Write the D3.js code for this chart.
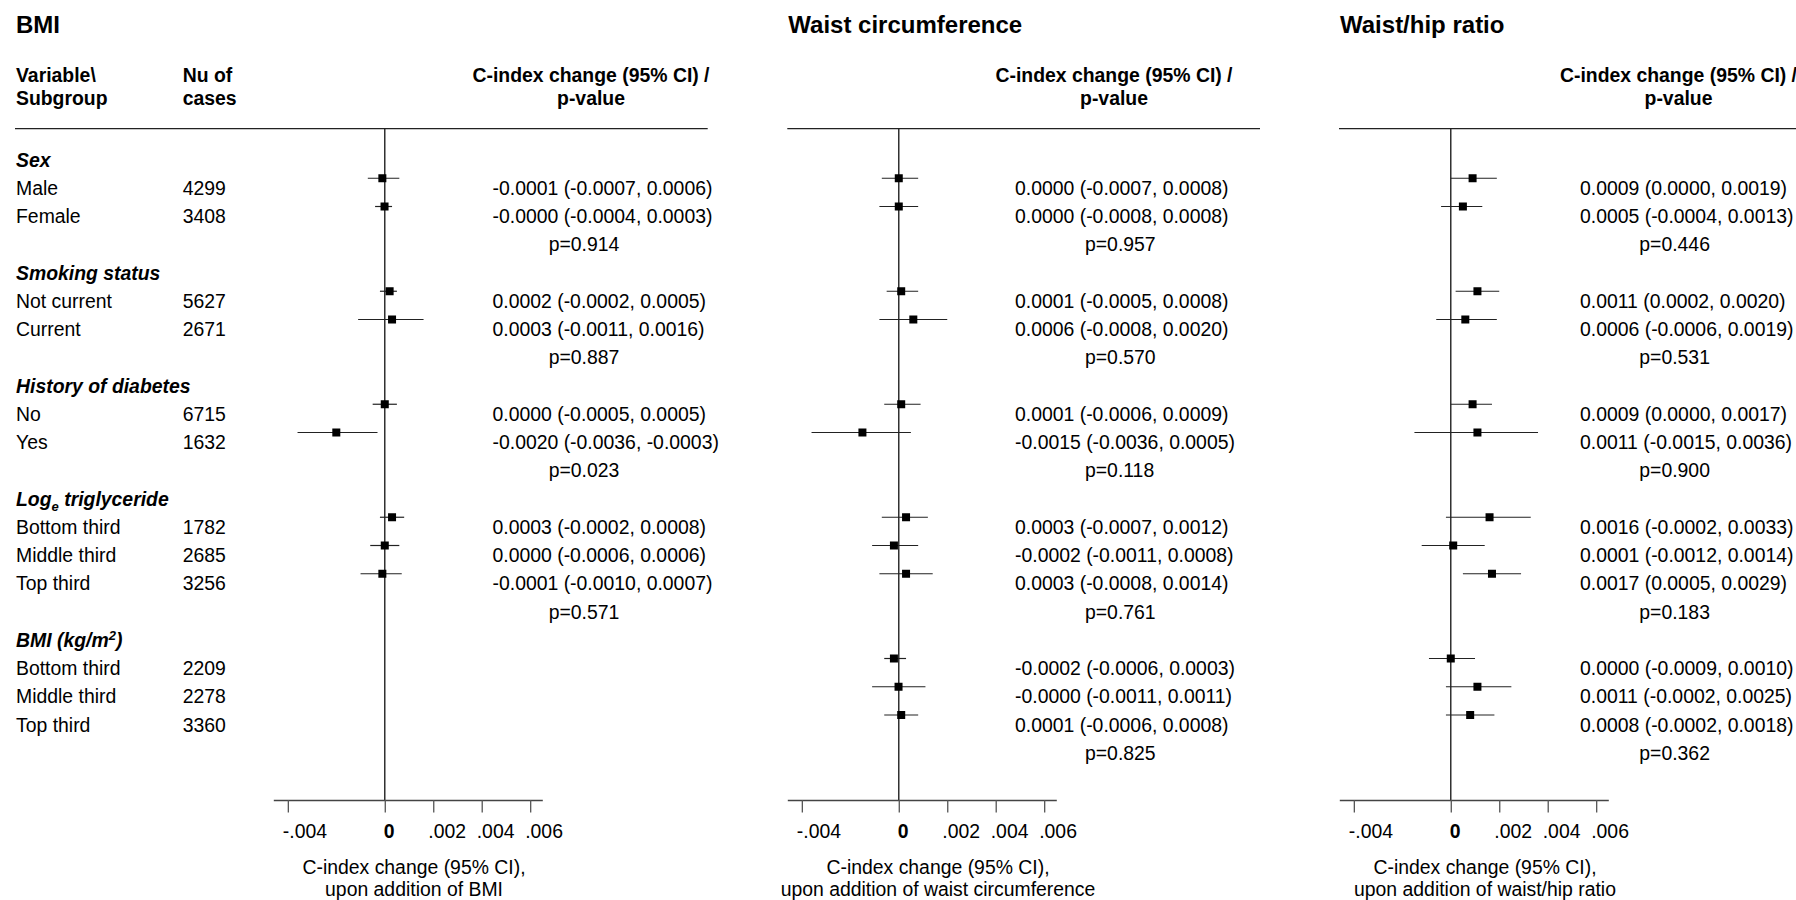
<!DOCTYPE html>
<html lang="en">
  <head>
    <meta charset="UTF-8" />
    <title>C-index change by subgroup</title>
    <script src="https://cdn.jsdelivr.net/npm/d3@7"></script>
    <style>
      body { margin: 0; background: #fff; }
      svg { font-family: 'Liberation Sans', Arial, Helvetica, sans-serif; }
    </style>
  </head>
  <body>
    <div class="chart"></div>
    <script>
      // group headers ( _x = subscript, ^x = superscript )
      var groupNames = ['Sex', 'Smoking status', 'History of diabetes', 'Log_e triglyceride', 'BMI (kg/m^2)']
      var groupSizes = [2, 2, 2, 3, 3]
      var subgroupNames = ['Male', 'Female', 'Not current', 'Current', 'No', 'Yes',
        'Bottom third', 'Middle third', 'Top third', 'Bottom third', 'Middle third', 'Top third']
      var nCases = [4299, 3408, 5627, 2671, 6715, 1632, 1782, 2685, 3256, 2209, 2278, 3360]

      // BMI
      var bmiEst = [-0.0001, -0.00001, 0.0002, 0.0003, 0.0000, -0.0020, 0.0003, 0.0000, -0.0001, null, null, null]
      var bmiLo = [-0.0007, -0.0004, -0.0002, -0.0011, -0.0005, -0.0036, -0.0002, -0.0006, -0.0010, null, null, null]
      var bmiHi = [0.0006, 0.0003, 0.0005, 0.0016, 0.0005, -0.0003, 0.0008, 0.0006, 0.0007, null, null, null]
      var bmiP = [0.914, 0.887, 0.023, 0.571, null]

      // waist circumference
      var wcEst = [0.0000, 0.0000, 0.0001, 0.0006, 0.0001, -0.0015, 0.0003, -0.0002, 0.0003, -0.0002, -0.00001, 0.0001]
      var wcLo = [-0.0007, -0.0008, -0.0005, -0.0008, -0.0006, -0.0036, -0.0007, -0.0011, -0.0008, -0.0006, -0.0011, -0.0006]
      var wcHi = [0.0008, 0.0008, 0.0008, 0.0020, 0.0009, 0.0005, 0.0012, 0.0008, 0.0014, 0.0003, 0.0011, 0.0008]
      var wcP = [0.957, 0.570, 0.118, 0.761, 0.825]

      // waist/hip ratio
      var whrEst = [0.0009, 0.0005, 0.0011, 0.0006, 0.0009, 0.0011, 0.0016, 0.0001, 0.0017, 0.0000, 0.0011, 0.0008]
      var whrLo = [0.0000, -0.0004, 0.0002, -0.0006, 0.0000, -0.0015, -0.0002, -0.0012, 0.0005, -0.0009, -0.0002, -0.0002]
      var whrHi = [0.0019, 0.0013, 0.0020, 0.0019, 0.0017, 0.0036, 0.0033, 0.0014, 0.0029, 0.0010, 0.0025, 0.0018]
      var whrP = [0.446, 0.531, 0.900, 0.183, 0.362]

      var tickVals = [-0.004, 0, 0.002, 0.004, 0.006]
      var xDomain = [-0.0046, 0.0065]

      var panels = [
        { title: 'BMI', sub: 'upon addition of BMI', est: bmiEst, lo: bmiLo, hi: bmiHi, p: bmiP,
          x0: 273.3, ciX: 492.5, pX: 548.7, headX: 591, lineX: [15, 707.7], titleX: 16, axisTitleX: 414 },
        { title: 'Waist circumference', sub: 'upon addition of waist circumference', est: wcEst, lo: wcLo, hi: wcHi, p: wcP,
          x0: 787.3, ciX: 1015, pX: 1085, headX: 1114, lineX: [787.3, 1260], titleX: 788.3, axisTitleX: 938 },
        { title: 'Waist/hip ratio', sub: 'upon addition of waist/hip ratio', est: whrEst, lo: whrLo, hi: whrHi, p: whrP,
          x0: 1339.3, ciX: 1580, pX: 1639.3, headX: 1678.5, lineX: [1339, 1800], titleX: 1340, axisTitleX: 1485 }
      ]

      var W = 1796, H = 900
      var fs = 19.4
      var axisY = 800, topY = 128.7
      var plotW = 269

      var svg = d3.select('.chart').append('svg')
        .attr('width', W).attr('height', H)
        .style('background-color', '#fff')

      // table rows: group header, subgroups, p-value
      var rows = []
      var k = 0
      groupNames.forEach(function (g, gi) {
        rows.push({ type: 'group', g: gi })
        for (var j = 0; j < groupSizes[gi]; j++) rows.push({ type: 'sub', idx: k++ })
        rows.push({ type: 'p', g: gi })
      })
      rows.forEach(function (r, i) { r.row = i })

      // row baseline
      var yScale = d3.scaleLinear().domain([0, 21]).range([166.7, 166.7 + 28.25 * 21])
      var markOff = 16.7

      var fmt = function (v) { return (v < 0 ? '-' : '') + Math.abs(v).toFixed(4) }

      function richText(sel, str) {
        var parts = str.split(/([_^]\w)/)
        var shift = 0
        parts.forEach(function (s) {
          if (!s) return
          if (s[0] === '_' || s[0] === '^') {
            var d = s[0] === '_' ? 5 : -7
            sel.append('tspan').attr('dy', d).attr('font-size', 13).text(s.slice(1))
            shift = -d
          } else {
            sel.append('tspan').attr('dy', shift).text(s)
            shift = 0
          }
        })
      }

      // left table (only once)
      var left = svg.append('g').attr('font-size', fs)
      left.append('text').attr('x', 16).attr('y', 81.7).attr('font-weight', 'bold').text('Variable\\')
      left.append('text').attr('x', 16).attr('y', 104.5).attr('font-weight', 'bold').text('Subgroup')
      left.append('text').attr('x', 182.7).attr('y', 81.7).attr('font-weight', 'bold').text('Nu of')
      left.append('text').attr('x', 182.7).attr('y', 104.5).attr('font-weight', 'bold').text('cases')

      rows.filter(function (r) { return r.type === 'group' }).forEach(function (r) {
        var t = left.append('text').attr('x', 16).attr('y', yScale(r.row))
          .attr('font-weight', 'bold').attr('font-style', 'italic')
        richText(t, groupNames[r.g])
      })
      var subRows = rows.filter(function (r) { return r.type === 'sub' })
      left.selectAll('.subName').data(subRows).enter().append('text')
        .attr('x', 16).attr('y', function (r) { return yScale(r.row) })
        .text(function (r) { return subgroupNames[r.idx] })
      left.selectAll('.nCase').data(subRows).enter().append('text')
        .attr('x', 182.7).attr('y', function (r) { return yScale(r.row) })
        .text(function (r) { return nCases[r.idx] })

      panels.forEach(function (pn) {
        var x = d3.scaleLinear().domain(xDomain).range([pn.x0, pn.x0 + plotW])
        var g = svg.append('g').attr('font-size', fs)

        g.append('text').attr('x', pn.titleX).attr('y', 33.3)
          .attr('font-size', 24).attr('font-weight', 'bold').text(pn.title)
        g.append('text').attr('x', pn.headX).attr('y', 81.7).attr('text-anchor', 'middle')
          .attr('font-weight', 'bold').text('C-index change (95% CI) /')
        g.append('text').attr('x', pn.headX).attr('y', 104.5).attr('text-anchor', 'middle')
          .attr('font-weight', 'bold').text('p-value')
        g.append('line').attr('x1', pn.lineX[0]).attr('x2', pn.lineX[1])
          .attr('y1', topY).attr('y2', topY).attr('stroke', '#222').attr('stroke-width', 1.3)

        // zero line
        g.append('line').attr('x1', x(0)).attr('x2', x(0)).attr('y1', topY).attr('y2', axisY)
          .attr('stroke', '#222').attr('stroke-width', 1.4)

        // axis
        var ax = g.append('g').attr('transform', 'translate(0,' + axisY + ')')
          .call(d3.axisBottom(x).tickValues(tickVals).tickSize(12.5).tickSizeOuter(0)
            .tickFormat(function (d) { return d === 0 ? '0' : (d < 0 ? '-' : '') + String(Math.abs(d)).replace(/^0/, '') }))
        ax.attr('font-family', null).attr('font-size', fs)
        ax.select('.domain').attr('stroke', '#444').attr('stroke-width', 1.5)
        ax.selectAll('.tick line').attr('stroke', '#555').attr('stroke-width', 1.3)
        ax.selectAll('.tick text').attr('fill', '#000').attr('dy', null).attr('y', 38.3)
          .attr('text-anchor', 'start')
          .attr('x', function (d) { return d === 0 ? -1.5 : -5.5 })
          .attr('font-weight', function (d) { return d === 0 ? 'bold' : null })

        g.append('text').attr('x', pn.axisTitleX).attr('y', 873.5).attr('text-anchor', 'middle')
          .text('C-index change (95% CI),')
        g.append('text').attr('x', pn.axisTitleX).attr('y', 896).attr('text-anchor', 'middle')
          .text(pn.sub)

        var dat = subRows.filter(function (r) { return pn.est[r.idx] !== null })

        // CI whiskers
        g.selectAll('.ci').data(dat).enter().append('line')
          .attr('x1', function (r) { return x(pn.lo[r.idx]) })
          .attr('x2', function (r) { return x(pn.hi[r.idx]) })
          .attr('y1', function (r) { return yScale(r.row) - markOff })
          .attr('y2', function (r) { return yScale(r.row) - markOff })
          .attr('stroke', '#222').attr('stroke-width', 1.2)

        // point estimates
        g.selectAll('.pt').data(dat).enter().append('rect')
          .attr('x', function (r) { return x(pn.est[r.idx]) - 4 })
          .attr('y', function (r) { return yScale(r.row) - markOff - 4 })
          .attr('width', 8).attr('height', 8).attr('fill', '#000')

        g.selectAll('.ciText').data(dat).enter().append('text')
          .attr('x', pn.ciX).attr('y', function (r) { return yScale(r.row) })
          .text(function (r) { return fmt(pn.est[r.idx]) + ' (' + fmt(pn.lo[r.idx]) + ', ' + fmt(pn.hi[r.idx]) + ')' })

        var pRows = rows.filter(function (r) { return r.type === 'p' && pn.p[r.g] !== null })
        g.selectAll('.pText').data(pRows).enter().append('text')
          .attr('x', pn.pX).attr('y', function (r) { return yScale(r.row) })
          .text(function (r) { return 'p=' + pn.p[r.g].toFixed(3) })
      })
    </script>
  </body>
</html>
